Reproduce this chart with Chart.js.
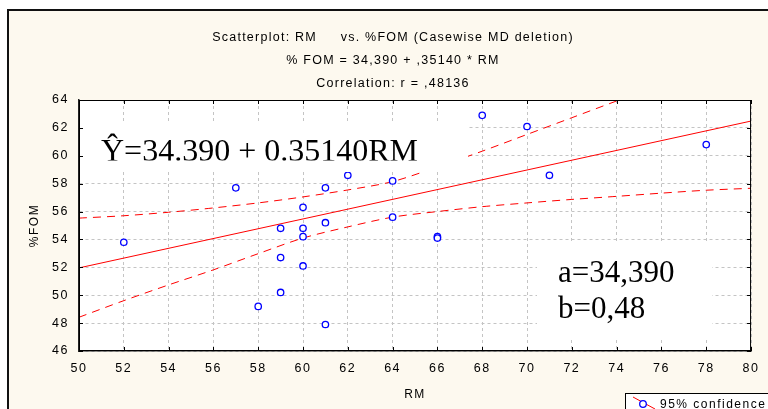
<!DOCTYPE html>
<html>
<head>
<meta charset="utf-8">
<script src="https://cdn.jsdelivr.net/npm/chart.js@4"></script>
<style>
    html, body { margin: 0; padding: 0; background: #fff; }
    #wrap { width: 768px; height: 409px; position: relative; }
</style>
</head>
<body>
<div id="wrap"><canvas id="chartRM"></canvas></div>
<script>
// Valores (RM x %FOM)
const rmValues  = [52, 57, 58, 59, 59, 59, 60, 60, 60, 60, 61, 61, 61, 62, 64, 64, 66, 66, 68, 70, 71, 78];
const fomValues = [53.8, 57.7, 49.2, 54.8, 52.7, 50.2, 56.3, 54.8, 54.2, 52.1, 57.7, 55.2, 47.9, 58.6, 58.2, 55.6, 54.2, 54.1, 62.9, 62.1, 58.6, 60.8];

// Reta de regressão (extremos)
const fitX = [50, 80];
const fitY = [51.96, 62.49];

// Bandas de confiança 95%
const upperX = [50, 52, 54, 56, 58, 60, 62, 64, 66, 68, 70, 72, 74, 76];
const upperY = [55.53, 55.7, 55.95, 56.26, 56.62, 57.05, 57.55, 58.15, 59.2, 60.33, 61.53, 62.73, 63.93, 65.1];
const lowerX = [50, 52, 54, 56, 58, 60, 62, 64, 66, 68, 70, 72, 74, 76, 78, 80];
const lowerY = [48.42, 49.61, 50.74, 51.82, 52.98, 54.1, 54.9, 55.6, 56.0, 56.35, 56.62, 56.87, 57.09, 57.32, 57.53, 57.67];

const titleLines = [
    'Scatterplot: RM     vs. %FOM (Casewise MD deletion)',
    '% FOM = 34,390 + ,35140 * RM',
    'Correlation: r = ,48136'
];
const eqText = 'Ŷ=34.390 + 0.35140RM';
const coefLines = ['a=34,390', 'b=0,48'];
const legendText = '95% confidence';

const SANS = '"Liberation Sans", Arial, sans-serif';
const SERIF = '"Liberation Serif", "Times New Roman", serif';
const CREAM = '#fdf9ef';

function toPoints(xs, ys) {
    return xs.map((x, i) => ({ x: x, y: ys[i] }));
}

// Fundo, moldura externa e área do gráfico
const backgroundPlugin = {
    id: 'background',
    beforeDraw(chart) {
        const ctx = chart.ctx;
        const a = chart.chartArea;
        ctx.save();
        ctx.fillStyle = '#fff';
        ctx.fillRect(0, 0, chart.width, chart.height);
        ctx.fillStyle = CREAM;
        ctx.fillRect(8, 10, chart.width - 8, chart.height - 10);
        ctx.fillStyle = '#111';
        ctx.fillRect(7, 9, chart.width - 7, 2);
        ctx.fillRect(7, 9, 2, chart.height - 9);
        ctx.fillStyle = '#fff';
        ctx.fillRect(a.left, a.top, a.right - a.left, a.bottom - a.top);
        ctx.restore();
        ctx.letterSpacing = '1.5px';
    }
};

// Caixas de texto, moldura do plot, ticks internos, legenda e títulos
const overlayPlugin = {
    id: 'overlay',
    afterDatasetsDraw(chart) {
        const ctx = chart.ctx;
        const a = chart.chartArea;
        ctx.save();
        ctx.letterSpacing = '0px';

        // caixa da equação (texto cortado embaixo, como no original)
        ctx.fillStyle = '#fff';
        ctx.fillRect(a.left + 1, 121, 467 - a.left, 51);
        ctx.save();
        ctx.beginPath();
        ctx.rect(a.left + 1, 110, 467 - a.left, 50.5);
        ctx.clip();
        ctx.fillStyle = '#000';
        ctx.font = '32px ' + SERIF;
        ctx.textBaseline = 'alphabetic';
        ctx.textAlign = 'left';
        ctx.fillText(eqText, 101, 161);
        ctx.restore();

        // caixa dos coeficientes
        ctx.fillStyle = '#fff';
        ctx.fillRect(537, 243, 175, 95);
        ctx.fillStyle = '#000';
        ctx.font = '31px ' + SERIF;
        ctx.textAlign = 'left';
        ctx.fillText(coefLines[0], 558, 282);
        ctx.fillText(coefLines[1], 558, 318);

        // moldura do plot
        ctx.strokeStyle = '#000';
        ctx.lineWidth = 1;
        ctx.strokeRect(a.left + 0.5, a.top + 0.5, a.right - a.left - 1, a.bottom - a.top - 1);

        // ticks internos
        const xs = chart.scales.x;
        const ys = chart.scales.y;
        ctx.beginPath();
        for (let v = 50; v <= 80; v += 2) {
            const px = Math.round(xs.getPixelForValue(v)) + 0.5;
            ctx.moveTo(px, a.top); ctx.lineTo(px, a.top + 4);
            ctx.moveTo(px, a.bottom); ctx.lineTo(px, a.bottom - 4);
        }
        for (let v = 46; v <= 64; v += 2) {
            const py = Math.round(ys.getPixelForValue(v)) + 0.5;
            ctx.moveTo(a.left, py); ctx.lineTo(a.left + 4, py);
            ctx.moveTo(a.right, py); ctx.lineTo(a.right - 4, py);
        }
        ctx.stroke();
        ctx.restore();
    },
    afterDraw(chart) {
        const ctx = chart.ctx;
        ctx.save();

        // títulos
        ctx.fillStyle = '#000';
        ctx.font = '12.5px ' + SANS;
        ctx.letterSpacing = '1.25px';
        ctx.textAlign = 'center';
        ctx.textBaseline = 'alphabetic';
        const baselines = [41, 64, 87];
        titleLines.forEach((t, i) => ctx.fillText(t, 393, baselines[i]));

        // legenda
        ctx.fillStyle = '#fff';
        ctx.fillRect(626, 394, 200, 40);
        ctx.strokeStyle = '#000';
        ctx.lineWidth = 1;
        ctx.strokeRect(625.5, 393.5, 200, 40);
        ctx.strokeStyle = '#ff0000';
        ctx.beginPath();
        ctx.moveTo(633, 397);
        ctx.lineTo(655, 409);
        ctx.stroke();
        ctx.strokeStyle = '#0000ff';
        ctx.lineWidth = 1.3;
        ctx.fillStyle = '#fff';
        ctx.beginPath();
        ctx.arc(643, 404, 3.3, 0, Math.PI * 2);
        ctx.fill();
        ctx.stroke();
        ctx.fillStyle = '#000';
        ctx.font = '12px ' + SANS;
        ctx.textAlign = 'left';
        ctx.letterSpacing = '1.5px';
        ctx.fillText(legendText, 660, 408);
        ctx.restore();
    }
};

const ctx = document.getElementById('chartRM').getContext('2d');
new Chart(ctx, {
    type: 'scatter',
    data: {
        datasets: [
            {
                label: 'FOM',
                data: toPoints(rmValues, fomValues),
                pointStyle: 'circle',
                pointRadius: 3.2,
                pointBorderWidth: 1.3,
                pointBorderColor: '#0000ff',
                pointBackgroundColor: '#fff',
                showLine: false
            },
            {
                label: 'Regressão',
                data: toPoints(fitX, fitY),
                showLine: true,
                borderColor: '#ff0000',
                borderWidth: 1,
                pointRadius: 0
            },
            {
                label: 'IC superior',
                data: toPoints(upperX, upperY),
                showLine: true,
                borderColor: '#ff0000',
                borderWidth: 1,
                borderDash: [8, 6],
                tension: 0.3,
                pointRadius: 0
            },
            {
                label: 'IC inferior',
                data: toPoints(lowerX, lowerY),
                showLine: true,
                borderColor: '#ff0000',
                borderWidth: 1,
                borderDash: [8, 6],
                tension: 0.3,
                pointRadius: 0
            }
        ]
    },
    options: {
        responsive: true,
        maintainAspectRatio: false,
        animation: false,
        layout: { padding: { top: 100, right: 11, left: 0, bottom: 0 } },
        plugins: {
            legend: { display: false },
            title: { display: false },
            tooltip: { enabled: false }
        },
        scales: {
            x: {
                type: 'linear',
                min: 50,
                max: 80,
                ticks: {
                    stepSize: 2,
                    color: '#000',
                    padding: 10,
                    font: { family: SANS, size: 12.5 }
                },
                grid: { color: '#c4c4c4', drawTicks: false },
                border: { display: true, color: '#222', width: 1.5, dash: [3, 3] },
                title: {
                    display: true,
                    text: 'RM',
                    color: '#000',
                    font: { family: SANS, size: 12 },
                    padding: { top: 0, bottom: 7 }
                },
                afterFit(scale) { scale.height = 58; }
            },
            y: {
                type: 'linear',
                min: 46,
                max: 64,
                ticks: {
                    stepSize: 2,
                    color: '#000',
                    padding: 10,
                    font: { family: SANS, size: 12.5 }
                },
                grid: { color: '#c4c4c4', drawTicks: false },
                border: { display: true, color: '#222', width: 1.5, dash: [3, 3] },
                title: {
                    display: true,
                    text: '%FOM',
                    color: '#000',
                    font: { family: SANS, size: 12 },
                    padding: { top: 27, bottom: 0 }
                },
                afterFit(scale) { scale.width = 79; }
            }
        }
    },
    plugins: [backgroundPlugin, overlayPlugin]
});
</script>
</body>
</html>
